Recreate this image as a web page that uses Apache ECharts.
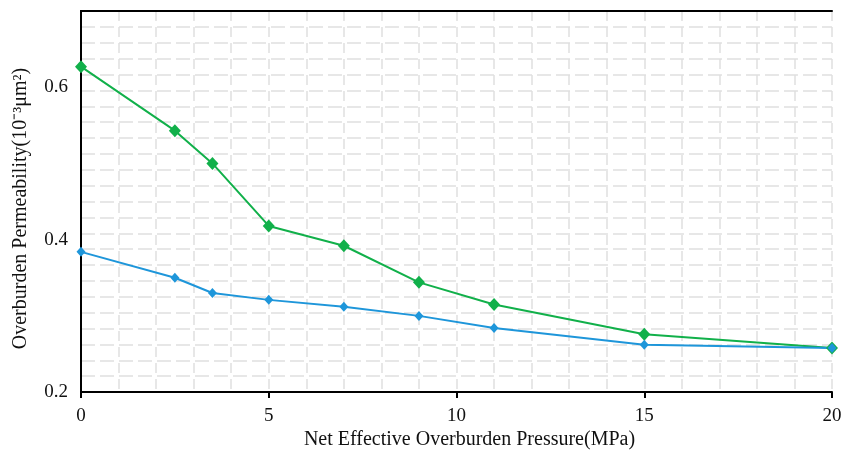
<!DOCTYPE html>
<html>
<head>
<meta charset="utf-8">
<script src="https://cdn.jsdelivr.net/npm/echarts@6/dist/echarts.min.js"></script>
<style>
  html, body { margin: 0; padding: 0; background: #fff; }
  #chart { width: 845px; height: 455px; }
</style>
</head>
<body>
<div id="chart"></div>
<script>
const pressure = [0, 2.5, 3.5, 5, 7, 9, 11, 15, 20];
const permGreen = [0.627, 0.543, 0.500, 0.418, 0.392, 0.344, 0.315, 0.276, 0.258];
const permBlue = [0.384, 0.350, 0.330, 0.321, 0.312, 0.300, 0.284, 0.262, 0.258];

const font = '"Liberation Serif", "Times New Roman", serif';
const gridColor = '#e0e0e0';

const chart = echarts.init(document.getElementById('chart'));

const pairs = (ys) => pressure.map((x, i) => [x, ys[i]]);

chart.setOption({
  animation: false,
  grid: { left: 81, right: 13, top: 11, bottom: 58 },
  xAxis: [
    {
      type: 'value', min: 0, max: 20, interval: 5,
      name: 'Net Effective Overburden Pressure(MPa)',
      nameLocation: 'middle', nameGap: 36,
      nameTextStyle: { fontFamily: font, fontSize: 20, color: '#111', padding: [0, 0, 0, 26] },
      axisLine: { lineStyle: { color: '#000', width: 2 } },
      axisTick: { show: true, length: 6, lineStyle: { color: '#000', width: 2 } },
      axisLabel: { fontFamily: font, fontSize: 19, color: '#111', margin: 14 },
      splitLine: { show: false }
    },
    {
      type: 'value', min: 0, max: 20, interval: 1, position: 'top',
      axisLine: { show: true, lineStyle: { color: '#000', width: 2 } },
      axisTick: { show: false }, axisLabel: { show: false },
      splitLine: { show: true, lineStyle: { color: gridColor, width: 1.5, type: [10, 6] } }
    }
  ],
  yAxis: [
    {
      type: 'value', min: 0.2, max: 0.7, interval: 0.2,
      name: 'Overburden Permeability(10⁻³μm²)',
      nameLocation: 'middle', nameGap: 50, nameRotate: 90,
      nameTextStyle: { fontFamily: font, fontSize: 20, color: '#111', padding: [0, 14, 0, 0] },
      axisLine: { show: true, lineStyle: { color: '#000', width: 2 } },
      axisTick: { show: false },
      axisLabel: { fontFamily: font, fontSize: 19, color: '#111', margin: 13, showMaxLabel: false,
        formatter: (v) => v.toFixed(1) },
      splitLine: { show: false }
    },
    {
      type: 'value', min: 0, max: 24, interval: 1, position: 'right',
      axisLine: { show: true, lineStyle: { color: '#000', width: 2 } },
      axisTick: { show: false }, axisLabel: { show: false },
      splitLine: { show: true, lineStyle: { color: gridColor, width: 1.5, type: [14, 5] } }
    }
  ],
  series: [
    {
      type: 'line', data: pairs(permGreen),
      symbol: 'diamond', symbolSize: [12, 13],
      lineStyle: { color: '#11b04a', width: 2 },
      itemStyle: { color: '#11b04a' }
    },
    {
      type: 'line', data: pairs(permBlue),
      symbol: 'diamond', symbolSize: [9, 10],
      lineStyle: { color: '#1e96da', width: 2 },
      itemStyle: { color: '#1e96da' }
    }
  ]
});
</script>
</body>
</html>
